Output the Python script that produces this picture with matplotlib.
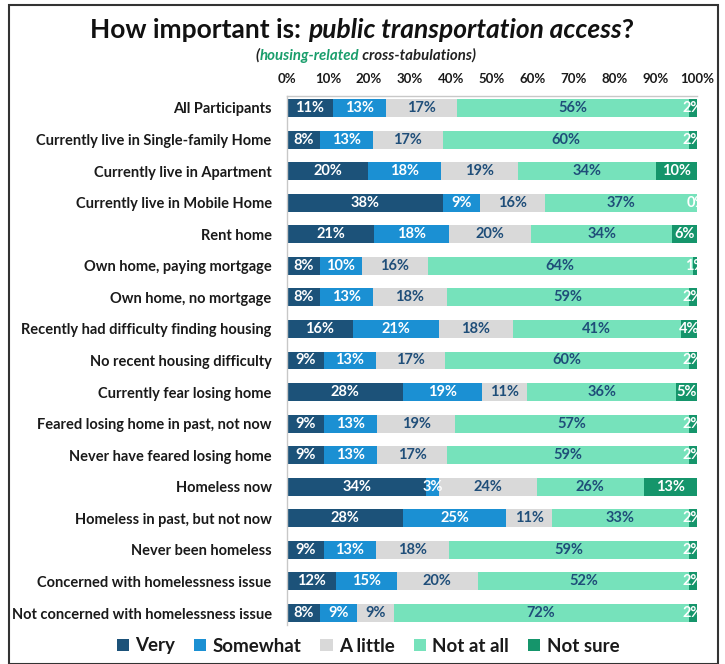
import matplotlib
matplotlib.use("Agg")
import matplotlib.pyplot as plt
import numpy as np
from matplotlib.patches import Rectangle

plt.rcParams['font.family'] = ['Lato', 'DejaVu Sans']

categories = [
    "All Participants",
    "Currently live in Single-family Home",
    "Currently live in Apartment",
    "Currently live in Mobile Home",
    "Rent home",
    "Own home, paying mortgage",
    "Own home, no mortgage",
    "Recently had difficulty finding housing",
    "No recent housing difficulty",
    "Currently fear losing home",
    "Feared losing home in past, not now",
    "Never have feared losing home",
    "Homeless now",
    "Homeless in past, but not now",
    "Never been homeless",
    "Concerned with homelessness issue",
    "Not concerned with homelessness issue",
]
very = [11, 8, 20, 38, 21, 8, 8, 16, 9, 28, 9, 9, 34, 28, 9, 12, 8]
somewhat = [13, 13, 18, 9, 18, 10, 13, 21, 13, 19, 13, 13, 3, 25, 13, 15, 9]
a_little = [17, 17, 19, 16, 20, 16, 18, 18, 17, 11, 19, 17, 24, 11, 18, 20, 9]
not_at_all = [56, 60, 34, 37, 34, 64, 59, 41, 60, 36, 57, 59, 26, 33, 59, 52, 72]
not_sure = [2, 2, 10, 0, 6, 1, 2, 4, 2, 5, 2, 2, 13, 2, 2, 2, 2]

series_names = ["Very", "Somewhat", "A little", "Not at all", "Not sure"]
colors = ["#1c5279", "#1b90d3", "#d9d9d9", "#76e2bb", "#15956b"]
text_colors = ["white", "white", "#1f4e79", "#1f4e79", "white"]

fig = plt.figure(figsize=(7.25, 6.64), dpi=100)
ax = fig.add_axes([287 / 725, 1 - 625 / 664, 410 / 725, 529 / 664])

data = np.array([very, somewhat, a_little, not_at_all, not_sure], dtype=float)
totals = data.sum(axis=0)
widths = data / totals * 100  # rounded values, stretch each bar to 100%
y = np.arange(len(categories))
left = np.zeros(len(categories))
for i, name in enumerate(series_names):
    ax.barh(y, widths[i], left=left, height=0.57, color=colors[i], label=name)
    for j in range(len(categories)):
        ax.text(left[j] + widths[i][j] / 2, y[j], f"{int(data[i][j])}%",
                ha='center', va='center', fontsize=10.5, fontweight='bold',
                color=text_colors[i], clip_on=True)
    left += widths[i]

ax.set_xlim(0, 100)
ax.set_ylim(len(categories) - 1 + 0.38, -0.38)
ax.set_yticks(y)
ax.set_yticklabels(categories, fontsize=10.5, fontweight='bold', color='#1a1a1a')
ax.set_xticks(np.arange(0, 101, 10))
ax.set_xticklabels([f"{v}%" for v in range(0, 101, 10)], fontsize=9.5,
                   fontweight='bold', color='#1a1a1a')
ax.xaxis.tick_top()
ax.tick_params(axis='x', length=0, pad=8)
ax.tick_params(axis='y', length=0, pad=11)
for s in ['right', 'bottom']:
    ax.spines[s].set_visible(False)
for s in ['top', 'left']:
    ax.spines[s].set_color('#c8c8c8')
    ax.spines[s].set_linewidth(1)


def draw_rich(ypos, parts, size):
    # pieces of one line, each placed right after the previous one
    texts = []
    for k, (s, props) in enumerate(parts):
        if k == 0:
            t = fig.text(0.5, ypos, s, ha='left', va='bottom', fontsize=size, **props)
        else:
            t = ax.annotate(s, xy=(1, 0), xycoords=texts[-1], ha='left', va='bottom',
                            fontsize=size, annotation_clip=False, **props)
        texts.append(t)
    return texts


title_parts = [
    ("How important is: ", dict(fontweight='bold', color='#111111')),
    ("public transportation access", dict(fontweight='bold', style='italic', color='#111111')),
    ("?", dict(fontweight='bold', color='#111111')),
]
sub_parts = [
    ("(", dict(fontweight='bold', style='italic', color='#222222')),
    ("housing-related", dict(fontweight='bold', style='italic', color='#1a9e6c')),
    (" cross-tabulations)", dict(fontweight='bold', style='italic', color='#222222')),
]
title_texts = draw_rich(1 - 42 / 664, title_parts, 19)
sub_texts = draw_rich(1 - 63 / 664, sub_parts, 10.8)

fig.canvas.draw()
renderer = fig.canvas.get_renderer()
for texts, center in [(title_texts, 362 / 725), (sub_texts, 366 / 725)]:
    bbs = [t.get_window_extent(renderer) for t in texts]
    x0 = min(b.x0 for b in bbs)
    x1 = max(b.x1 for b in bbs)
    w = (x1 - x0) / fig.bbox.width
    texts[0].set_x(center - w / 2)

leg = fig.legend(loc='center', bbox_to_anchor=(368 / 725, 1 - 646 / 664), ncol=5,
                 frameon=False, fontsize=13.5, handlelength=0.65, handleheight=0.65,
                 handletextpad=0.35, columnspacing=1.0)
for t in leg.get_texts():
    t.set_fontweight('bold')
    t.set_color('#1a1a1a')

fig.patches.append(Rectangle((9 / 725, 0), 709 / 725, 1 - 5 / 664, transform=fig.transFigure,
                             fill=False, edgecolor='#333333', linewidth=1.5))

fig.savefig("out.png", dpi=100)
